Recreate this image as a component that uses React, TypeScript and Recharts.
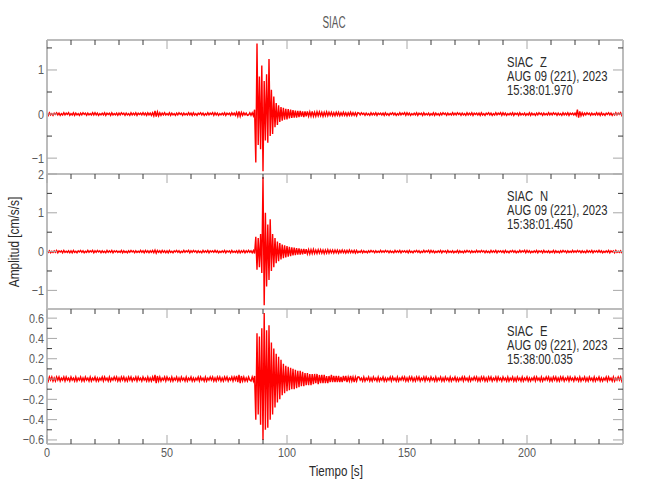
import React from 'react';
import { LineChart, Line, XAxis, YAxis } from 'recharts';

// sample interval of the traces (s)
const DT = 0.5;

const STATION = 'SIAC';
const DATE_LABEL = 'AUG 09 (221), 2023';
const CHANNELS = ['Z', 'N', 'E'];
const START_TIMES = ['15:38:01.970', '15:38:01.450', '15:38:00.035'];

// vertical component
const Z = [
  0.02,-0.03,0.03,-0.02,0.01,-0.03,0.02,-0.01,0.03,-0.02,0.02,-0.03,0.01,-0.02,0.03,-0.02,0.02,-0.01,0.03,-0.03,
  0.01,-0.02,0.03,-0.03,0.02,-0.02,0.01,-0.03,0.02,-0.02,0.03,-0.01,0.02,-0.03,0.02,-0.02,0.01,-0.02,0.03,-0.02,
  0.03,-0.02,0.02,-0.03,0.01,-0.02,0.02,-0.02,0.03,-0.03,0.02,-0.01,0.02,-0.03,0.03,-0.02,0.01,-0.02,0.02,-0.03,
  0.02,-0.02,0.03,-0.01,0.02,-0.03,0.02,-0.02,0.01,-0.03,0.03,-0.02,0.02,-0.02,0.03,-0.03,0.02,-0.01,0.02,-0.02,
  0.03,-0.02,0.02,-0.03,0.03,-0.02,0.02,-0.03,0.03,-0.04,0.07,-0.06,0.05,-0.04,0.03,-0.03,0.02,-0.02,0.03,-0.02,
  0.01,-0.02,0.03,-0.03,0.02,-0.02,0.01,-0.03,0.02,-0.02,0.03,-0.01,0.02,-0.03,0.02,-0.02,0.01,-0.02,0.03,-0.02,
  0.02,-0.03,0.03,-0.02,0.01,-0.03,0.02,-0.01,0.03,-0.02,0.02,-0.03,0.01,-0.02,0.03,-0.02,0.02,-0.01,0.03,-0.03,
  0.03,-0.02,0.02,-0.03,0.01,-0.02,0.02,-0.02,0.03,-0.03,0.02,-0.01,0.02,-0.03,0.03,-0.02,0.02,-0.03,0.04,-0.05,
  0.06,-0.05,0.04,-0.03,0.03,-0.02,0.02,-0.03,-0.02,0.03,-0.03,0.03,-0.04,0.1,-1.1,1.6,-0.7,0.85,-0.8,1.1,
  -1.3,0.75,-0.6,0.9,-0.65,1.25,-0.5,0.55,-0.45,0.4,-0.3,0.25,-0.25,0.2,-0.18,0.16,-0.15,0.14,-0.13,0.12,
  -0.12,0.11,-0.1,0.1,-0.09,0.09,-0.08,0.08,-0.08,0.07,-0.07,0.07,-0.06,0.06,-0.07,0.06,-0.05,0.06,-0.05,0.05,
  -0.05,0.06,-0.05,0.04,-0.05,0.05,-0.04,0.05,-0.04,0.04,-0.05,0.04,-0.04,0.05,-0.04,0.04,-0.03,0.04,-0.04,0.03,
  -0.04,0.04,-0.03,0.04,-0.04,0.03,-0.03,0.04,-0.03,0.03,-0.04,0.03,-0.03,0.04,-0.03,0.03,-0.03,0.03,-0.04,0.03,
  0.02,-0.02,0.03,-0.01,0.02,-0.03,0.02,-0.02,0.01,-0.03,0.03,-0.02,0.02,-0.02,0.03,-0.03,0.02,-0.01,0.02,-0.02,
  0.02,-0.03,0.03,-0.02,0.01,-0.03,0.02,-0.01,0.03,-0.02,0.02,-0.03,0.01,-0.02,0.03,-0.02,0.02,-0.01,0.03,-0.03,
  0.03,-0.02,0.02,-0.03,0.01,-0.02,0.02,-0.02,0.03,-0.03,0.02,-0.01,0.02,-0.03,0.03,-0.02,0.01,-0.02,0.02,-0.03,
  0.01,-0.02,0.03,-0.03,0.02,-0.02,0.01,-0.03,0.02,-0.02,0.03,-0.01,0.02,-0.03,0.02,-0.02,0.01,-0.02,0.03,-0.02,
  0.02,-0.02,0.03,-0.01,0.02,-0.03,0.02,-0.02,0.01,-0.03,0.03,-0.02,0.02,-0.02,0.03,-0.03,0.02,-0.01,0.02,-0.02,
  0.02,-0.03,0.03,-0.02,0.01,-0.03,0.02,-0.01,0.03,-0.02,0.02,-0.03,0.01,-0.02,0.03,-0.02,0.02,-0.01,0.03,-0.03,
  0.03,-0.02,0.02,-0.03,0.01,-0.02,0.02,-0.02,0.03,-0.03,0.02,-0.01,0.02,-0.03,0.03,-0.02,0.01,-0.02,0.02,-0.03,
  0.01,-0.02,0.03,-0.03,0.02,-0.02,0.01,-0.03,0.02,-0.02,0.03,-0.01,0.02,-0.03,0.02,-0.02,0.01,-0.02,0.03,-0.02,
  0.02,-0.02,0.03,-0.01,0.02,-0.03,0.02,-0.02,0.01,-0.03,0.03,-0.02,0.02,-0.02,0.03,-0.03,0.02,-0.01,0.02,-0.02,
  0.02,-0.03,0.1,-0.08,0.06,-0.04,0.03,-0.03,0.02,-0.02,0.03,-0.01,0.02,-0.03,0.02,-0.02,0.01,-0.02,0.03,-0.02,
  0.02,-0.03,0.03,-0.02,0.01,-0.03,0.02,-0.01,0.03,-0.02,0.02,-0.03,0.01,-0.02,0.03,-0.02,0.02,-0.01,0.03,-0.03,
  0.02,
];

// north component
const N = [
  0.03,-0.02,0.02,-0.03,0.01,-0.02,0.02,-0.02,0.03,-0.03,0.02,-0.01,0.02,-0.03,0.03,-0.02,0.01,-0.02,0.02,-0.03,
  0.02,-0.03,0.03,-0.02,0.01,-0.03,0.02,-0.01,0.03,-0.02,0.02,-0.03,0.01,-0.02,0.03,-0.02,0.02,-0.01,0.03,-0.03,
  0.02,-0.02,0.03,-0.01,0.02,-0.03,0.02,-0.02,0.01,-0.03,0.03,-0.02,0.02,-0.02,0.03,-0.03,0.02,-0.01,0.02,-0.02,
  0.01,-0.02,0.03,-0.03,0.02,-0.02,0.01,-0.03,0.02,-0.02,0.03,-0.01,0.02,-0.03,0.02,-0.02,0.01,-0.02,0.03,-0.02,
  0.02,-0.03,0.03,-0.02,0.02,-0.03,0.02,-0.02,0.03,-0.03,0.04,-0.04,0.03,-0.02,0.02,-0.03,0.03,-0.02,0.02,-0.03,
  0.02,-0.03,0.03,-0.02,0.01,-0.03,0.02,-0.01,0.03,-0.02,0.02,-0.03,0.01,-0.02,0.03,-0.02,0.02,-0.01,0.03,-0.03,
  0.02,-0.02,0.03,-0.01,0.02,-0.03,0.02,-0.02,0.01,-0.03,0.03,-0.02,0.02,-0.02,0.03,-0.03,0.02,-0.01,0.02,-0.02,
  0.03,-0.02,0.02,-0.03,0.01,-0.02,0.02,-0.02,0.03,-0.03,0.02,-0.01,0.02,-0.03,0.03,-0.02,0.01,-0.02,0.02,-0.03,
  0.03,-0.03,0.02,-0.02,0.03,-0.03,0.02,-0.02,0.03,-0.02,0.02,-0.03,0.03,-0.05,0.38,-0.47,0.35,-0.4,0.45,-0.55,
  1.92,-1.38,1.0,-0.9,0.7,-0.73,0.83,-0.5,0.45,-0.4,0.35,-0.3,0.26,-0.25,0.22,-0.2,0.18,-0.17,0.16,-0.15,
  0.14,-0.13,0.12,-0.12,0.11,-0.1,0.1,-0.09,0.09,-0.08,0.08,-0.08,0.07,-0.07,0.07,-0.06,0.06,-0.06,0.05,-0.06,
  0.05,-0.05,0.06,-0.05,0.04,-0.05,0.05,-0.04,0.05,-0.04,0.04,-0.05,0.04,-0.04,0.05,-0.04,0.04,-0.03,0.04,-0.04,
  0.04,-0.03,0.04,-0.04,0.03,-0.03,0.04,-0.03,0.03,-0.04,0.03,-0.03,0.04,-0.03,0.03,-0.03,0.03,-0.04,0.03,-0.03,
  0.01,-0.02,0.03,-0.03,0.02,-0.02,0.01,-0.03,0.02,-0.02,0.03,-0.01,0.02,-0.03,0.02,-0.02,0.01,-0.02,0.03,-0.02,
  0.02,-0.02,0.03,-0.01,0.02,-0.03,0.02,-0.02,0.01,-0.03,0.03,-0.02,0.02,-0.02,0.03,-0.03,0.02,-0.01,0.02,-0.02,
  0.02,-0.03,0.03,-0.02,0.01,-0.03,0.02,-0.01,0.03,-0.02,0.02,-0.03,0.01,-0.02,0.03,-0.02,0.02,-0.01,0.03,-0.03,
  0.03,-0.02,0.02,-0.03,0.01,-0.02,0.02,-0.02,0.03,-0.03,0.02,-0.01,0.02,-0.03,0.03,-0.02,0.01,-0.02,0.02,-0.03,
  0.01,-0.02,0.03,-0.03,0.02,-0.02,0.01,-0.03,0.02,-0.02,0.03,-0.01,0.02,-0.03,0.02,-0.02,0.01,-0.02,0.03,-0.02,
  0.02,-0.02,0.03,-0.01,0.02,-0.03,0.02,-0.02,0.01,-0.03,0.03,-0.02,0.02,-0.02,0.03,-0.03,0.02,-0.01,0.02,-0.02,
  0.02,-0.03,0.03,-0.02,0.01,-0.03,0.02,-0.01,0.03,-0.02,0.02,-0.03,0.01,-0.02,0.03,-0.02,0.02,-0.01,0.03,-0.03,
  0.03,-0.02,0.02,-0.03,0.01,-0.02,0.02,-0.02,0.03,-0.03,0.02,-0.01,0.02,-0.03,0.03,-0.02,0.01,-0.02,0.02,-0.03,
  0.01,-0.02,0.03,-0.03,0.02,-0.02,0.01,-0.03,0.02,-0.02,0.03,-0.01,0.02,-0.03,0.02,-0.02,0.01,-0.02,0.03,-0.02,
  0.02,-0.02,0.03,-0.01,0.02,-0.03,0.02,-0.02,0.01,-0.03,0.03,-0.02,0.02,-0.02,0.03,-0.03,0.02,-0.01,0.02,-0.02,
  0.03,-0.02,0.02,-0.03,0.01,-0.02,0.02,-0.02,0.03,-0.03,0.02,-0.01,0.02,-0.03,0.03,-0.02,0.01,-0.02,0.02,-0.03,
  -0.02,
];

// east component
const E = [
  0.01,-0.02,0.02,-0.01,0.02,-0.02,0.01,-0.02,0.02,-0.01,0.02,-0.02,0.01,-0.01,0.02,-0.02,0.02,-0.01,0.01,-0.02,
  0.02,-0.01,0.01,-0.02,0.02,-0.02,0.01,-0.01,0.02,-0.02,0.01,-0.02,0.02,-0.01,0.01,-0.02,0.02,-0.02,0.01,-0.01,
  0.02,-0.02,0.01,-0.02,0.01,-0.01,0.02,-0.02,0.02,-0.01,0.01,-0.02,0.02,-0.02,0.01,-0.01,0.02,-0.01,0.02,-0.02,
  0.01,-0.02,0.02,-0.01,0.02,-0.02,0.01,-0.02,0.02,-0.01,0.02,-0.02,0.01,-0.01,0.02,-0.02,0.02,-0.01,0.01,-0.02,
  0.02,-0.01,0.01,-0.02,0.02,-0.02,0.01,-0.02,0.02,-0.02,0.04,-0.04,0.03,-0.02,0.02,-0.02,0.01,-0.01,0.02,-0.02,
  0.02,-0.01,0.01,-0.02,0.02,-0.02,0.01,-0.01,0.02,-0.02,0.01,-0.02,0.02,-0.01,0.01,-0.02,0.02,-0.02,0.01,-0.01,
  0.02,-0.02,0.01,-0.02,0.01,-0.01,0.02,-0.02,0.02,-0.01,0.01,-0.02,0.02,-0.02,0.01,-0.01,0.02,-0.01,0.02,-0.02,
  0.01,-0.02,0.02,-0.01,0.02,-0.02,0.01,-0.02,0.02,-0.01,0.02,-0.02,0.01,-0.01,0.02,-0.02,0.02,-0.01,0.03,-0.03,
  0.04,-0.04,0.03,-0.02,0.02,-0.02,0.01,-0.02,0.02,-0.01,-0.02,0.02,-0.02,0.03,-0.4,0.45,-0.35,0.42,-0.45,0.5,
  -0.6,0.65,-0.5,0.48,-0.48,0.53,-0.4,0.36,-0.35,0.3,-0.28,0.25,-0.23,0.22,-0.2,0.19,-0.16,0.15,-0.14,0.13,
  -0.12,0.12,-0.11,0.11,-0.1,0.1,-0.1,0.09,-0.09,0.08,-0.08,0.08,-0.07,0.07,-0.07,0.06,-0.06,0.06,-0.06,0.05,
  -0.06,0.05,-0.05,0.05,-0.04,0.05,-0.05,0.04,-0.04,0.04,-0.04,0.04,-0.04,0.03,-0.04,0.03,-0.03,0.04,-0.03,0.03,
  -0.03,0.03,-0.03,0.03,-0.03,0.02,-0.03,0.03,-0.02,0.03,-0.03,0.02,-0.02,0.03,-0.02,0.02,-0.03,0.02,-0.02,0.02,
  0.02,-0.01,0.01,-0.02,0.02,-0.02,0.01,-0.01,0.02,-0.02,0.01,-0.02,0.02,-0.01,0.01,-0.02,0.02,-0.02,0.01,-0.01,
  0.02,-0.02,0.01,-0.02,0.01,-0.01,0.02,-0.02,0.02,-0.01,0.01,-0.02,0.02,-0.02,0.01,-0.01,0.02,-0.01,0.02,-0.02,
  0.01,-0.02,0.02,-0.01,0.02,-0.02,0.01,-0.02,0.02,-0.01,0.02,-0.02,0.01,-0.01,0.02,-0.02,0.02,-0.01,0.01,-0.02,
  0.02,-0.01,0.01,-0.02,0.02,-0.02,0.01,-0.01,0.02,-0.02,0.01,-0.02,0.02,-0.01,0.01,-0.02,0.02,-0.02,0.01,-0.01,
  0.02,-0.02,0.01,-0.02,0.01,-0.01,0.02,-0.02,0.02,-0.01,0.01,-0.02,0.02,-0.02,0.01,-0.01,0.02,-0.01,0.02,-0.02,
  0.01,-0.02,0.02,-0.01,0.02,-0.02,0.01,-0.02,0.02,-0.01,0.02,-0.02,0.01,-0.01,0.02,-0.02,0.02,-0.01,0.01,-0.02,
  0.02,-0.01,0.01,-0.02,0.02,-0.02,0.01,-0.01,0.02,-0.02,0.01,-0.02,0.02,-0.01,0.01,-0.02,0.02,-0.02,0.01,-0.01,
  0.02,-0.02,0.01,-0.02,0.01,-0.01,0.02,-0.02,0.02,-0.01,0.01,-0.02,0.02,-0.02,0.01,-0.01,0.02,-0.01,0.02,-0.02,
  0.01,-0.02,0.02,-0.01,0.02,-0.02,0.01,-0.02,0.02,-0.01,0.02,-0.02,0.01,-0.01,0.02,-0.02,0.02,-0.01,0.01,-0.02,
  0.02,-0.01,0.01,-0.02,0.02,-0.02,0.01,-0.01,0.02,-0.02,0.01,-0.02,0.02,-0.01,0.01,-0.02,0.02,-0.02,0.01,-0.01,
  0.02,-0.02,0.01,-0.02,0.01,-0.01,0.02,-0.02,0.02,-0.01,0.01,-0.02,0.02,-0.02,0.01,-0.01,0.02,-0.01,0.02,-0.02,
  0.01,
];

const X_TICKS = [0, 10, 20, 30, 40, 50, 60, 70, 80, 90, 100, 110, 120, 130, 140, 150, 160, 170, 180, 190, 200, 210, 220, 230];
const X_MAJOR = [0, 50, 100, 150, 200];

const Z_TICKS = [-1, -0.5, 0, 0.5, 1, 1.5];
const Z_MAJOR = [-1, 0, 1];
const N_TICKS = [-1, -0.5, 0, 0.5, 1, 1.5, 2];
const N_MAJOR = [-1, 0, 1, 2];
const E_TICKS = [-0.6, -0.5, -0.4, -0.3, -0.2, -0.1, 0, 0.1, 0.2, 0.3, 0.4, 0.5, 0.6];
const E_MAJOR = [-0.6, -0.4, -0.2, 0, 0.2, 0.4, 0.6];

const W = 650;
const H = 500;
const LEFT = 47;
const RIGHT = 27;

const AXIS = '#bcbcbc';
const MAJOR_C = '#a8a8a8';
const MINOR_C = '#3a3a3a';
const LABEL = '#5a5a5a';
const TEXT = '#2a2a2a';
const RED = '#ff0000';
const FONT = "'Liberation Sans', Arial, sans-serif";

const data = Z.map((z, i) => ({ t: i * DT, z, n: N[i], e: E[i] }));

const minus = (s: string) => s.replace('-', '\u2212');
const fmtInt = (v: number) => minus(String(v));
const fmtTenth = (v: number) => (v === 0 ? '\u22120.0' : minus(v.toFixed(1)));

// narrow text, the original uses a condensed stroke font
const NText = ({ x, y, size, sx, anchor = 'start', fill = TEXT, rotate = 0, children }: any) => (
  <text
    transform={`translate(${x},${y}) rotate(${rotate}) scale(${sx},1)`}
    textAnchor={anchor}
    fontSize={size}
    fill={fill}
    fontFamily={FONT}
  >
    {children}
  </text>
);

const XTick = (props: any) => {
  const { x, y, payload, dir, showLabel } = props;
  const major = X_MAJOR.includes(payload.value);
  const len = major ? 9 : 5;
  return (
    <g>
      <line x1={x} x2={x} y1={y} y2={y + dir * len} stroke={major ? MAJOR_C : MINOR_C} strokeWidth={1} />
      {showLabel && major && (
        <NText x={x} y={y + 13} size={13} sx={0.83} anchor="middle" fill={LABEL}>
          {payload.value}
        </NText>
      )}
    </g>
  );
};

const YTick = (props: any) => {
  const { x, y, payload, dir, majors, fmt } = props;
  const major = majors.includes(payload.value);
  const len = major ? 10 : 5;
  return (
    <g>
      <line x1={x} x2={x + dir * len} y1={y} y2={y} stroke={major ? MAJOR_C : MINOR_C} strokeWidth={1} />
      {fmt && major && (
        <NText x={x - 3} y={y + 4.5} size={13} sx={0.83} anchor="end" fill={LABEL}>
          {fmt(payload.value)}
        </NText>
      )}
    </g>
  );
};

interface PanelProps {
  dataKey: string;
  top: number;
  bottom: number;
  domain: [number, number];
  ticks: number[];
  majors: number[];
  fmt: (v: number) => string;
  last?: boolean;
}

function Panel({ dataKey, top, bottom, domain, ticks, majors, fmt, last }: PanelProps) {
  const axisLine = { stroke: AXIS, strokeWidth: 2 };
  return (
    <div style={{ position: 'absolute', left: 0, top: 0 }}>
      <LineChart
        width={W}
        height={H}
        data={data}
        margin={{ top: top - 1, bottom: H - bottom - 1, left: LEFT - 1, right: RIGHT - 1 }}
      >
        <XAxis
          xAxisId="b"
          type="number"
          dataKey="t"
          domain={[0, 240]}
          allowDataOverflow
          ticks={X_TICKS}
          interval={0}
          height={1}
          tickSize={0}
          tickMargin={0}
          tickLine={false}
          axisLine={axisLine}
          tick={last ? (p: any) => <XTick {...p} dir={-1} showLabel /> : false}
        />
        <XAxis
          xAxisId="t"
          orientation="top"
          type="number"
          dataKey="t"
          domain={[0, 240]}
          allowDataOverflow
          ticks={X_TICKS}
          interval={0}
          height={1}
          tickSize={0}
          tickMargin={0}
          tickLine={false}
          axisLine={axisLine}
          tick={(p: any) => <XTick {...p} dir={1} />}
        />
        <YAxis
          yAxisId="l"
          type="number"
          domain={domain}
          allowDataOverflow
          ticks={ticks}
          interval={0}
          width={1}
          tickSize={0}
          tickMargin={0}
          tickLine={false}
          axisLine={axisLine}
          tick={(p: any) => <YTick {...p} dir={1} majors={majors} fmt={fmt} />}
        />
        <YAxis
          yAxisId="r"
          orientation="right"
          type="number"
          domain={domain}
          allowDataOverflow
          ticks={ticks}
          interval={0}
          width={1}
          tickSize={0}
          tickMargin={0}
          tickLine={false}
          axisLine={axisLine}
          tick={(p: any) => <YTick {...p} dir={-1} majors={majors} />}
        />
        <Line
          xAxisId="b"
          yAxisId="l"
          type="linear"
          dataKey={dataKey}
          stroke={RED}
          strokeWidth={1.4}
          dot={false}
          activeDot={false}
          isAnimationActive={false}
        />
        <Line
          xAxisId="t"
          yAxisId="r"
          type="linear"
          dataKey={dataKey}
          stroke="none"
          dot={false}
          activeDot={false}
          isAnimationActive={false}
        />
      </LineChart>
    </div>
  );
}

const TEXT_BASE = [67, 201, 336];

export default function App() {
  return (
    <div style={{ position: 'absolute', left: 0, top: 0, width: W, height: H, background: '#fff' }}>
      <Panel dataKey="z" top={40} bottom={174} domain={[-1.36, 1.68]} ticks={Z_TICKS} majors={Z_MAJOR} fmt={fmtInt} />
      <Panel dataKey="n" top={174} bottom={309} domain={[-1.48, 2.0]} ticks={N_TICKS} majors={N_MAJOR} fmt={fmtInt} />
      <Panel dataKey="e" top={309} bottom={444} domain={[-0.64, 0.69]} ticks={E_TICKS} majors={E_MAJOR} fmt={fmtTenth} last />
      <svg width={W} height={H} style={{ position: 'absolute', left: 0, top: 0, pointerEvents: 'none' }}>
        <NText x={334} y={28} size={16.5} sx={0.6} anchor="middle" fill={LABEL}>{STATION}</NText>
        {CHANNELS.map((ch, i) => (
          <g key={ch}>
            <NText x={507} y={TEXT_BASE[i]} size={15} sx={0.75}>{STATION}</NText>
            <NText x={540} y={TEXT_BASE[i]} size={15} sx={0.75}>{ch}</NText>
            <NText x={507} y={TEXT_BASE[i] + 13.7} size={15} sx={0.75}>{DATE_LABEL}</NText>
            <NText x={507} y={TEXT_BASE[i] + 27.5} size={15} sx={0.75}>{START_TIMES[i]}</NText>
          </g>
        ))}
        <NText x={336} y={476} size={14} sx={0.83} anchor="middle">Tiempo [s]</NText>
        <NText x={19} y={242} size={14} sx={0.85} anchor="middle" rotate={-90}>Amplitud [cm/s/s]</NText>
      </svg>
    </div>
  );
}
